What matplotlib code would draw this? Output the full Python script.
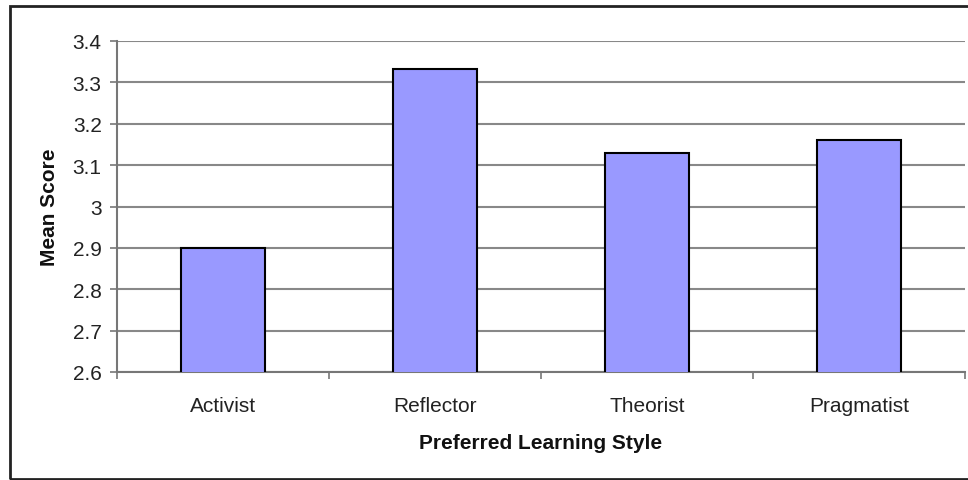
import matplotlib
matplotlib.use("Agg")
import matplotlib.pyplot as plt
from matplotlib.patches import Rectangle
import numpy as np

categories = ["Activist", "Reflector", "Theorist", "Pragmatist"]
values = [2.90, 3.333, 3.13, 3.16]
yticks = [2.6, 2.7, 2.8, 2.9, 3.0, 3.1, 3.2, 3.3, 3.4]
ytick_labels = ["2.6", "2.7", "2.8", "2.9", "3", "3.1", "3.2", "3.3", "3.4"]

plt.rcParams['font.family'] = ['Liberation Sans', 'DejaVu Sans']

fig = plt.figure(figsize=(9.68, 4.81), dpi=100)
ax = fig.add_axes([117/968, 1-373/481, (965-117)/968, (373-42)/481])

x = np.arange(len(categories))
ax.bar(x, values, width=0.4, color="#9999FF", edgecolor="black", linewidth=1.5, zorder=3)

ax.set_xlim(-0.5, len(categories) - 0.5)
ax.set_ylim(2.6, 3.4)
ax.set_yticks(yticks)
ax.set_yticklabels(ytick_labels, fontsize=15)
ax.set_xticks(x)
ax.set_xticklabels(categories, fontsize=15)
ax.set_xticks(np.arange(-0.5, len(categories), 1.0), minor=True)
ax.tick_params(axis='x', which='major', length=0, pad=17, colors='#222222')
ax.tick_params(axis='x', which='minor', length=5, width=1.2, color='#777777')
ax.tick_params(axis='y', length=5, width=1.2, color='#777777', labelcolor='#222222', pad=6)

ax.yaxis.grid(True, color='#888888', linewidth=1.5, zorder=0)
for s in ['top', 'right']:
    ax.spines[s].set_visible(False)
for s in ['left', 'bottom']:
    ax.spines[s].set_color('#777777')
    ax.spines[s].set_linewidth(1.5)

ax.set_xlabel("Preferred Learning Style", fontsize=15, fontweight='bold', labelpad=13, color='#111111')
ax.set_ylabel("Mean Score", fontsize=15, fontweight='bold', labelpad=10, color='#111111')

fig.patches.append(Rectangle((10/968, 1/481), 1.0, 1-8/481, transform=fig.transFigure,
                             fill=False, edgecolor='#222222', linewidth=2, zorder=10))

fig.savefig("out.png", dpi=100)
